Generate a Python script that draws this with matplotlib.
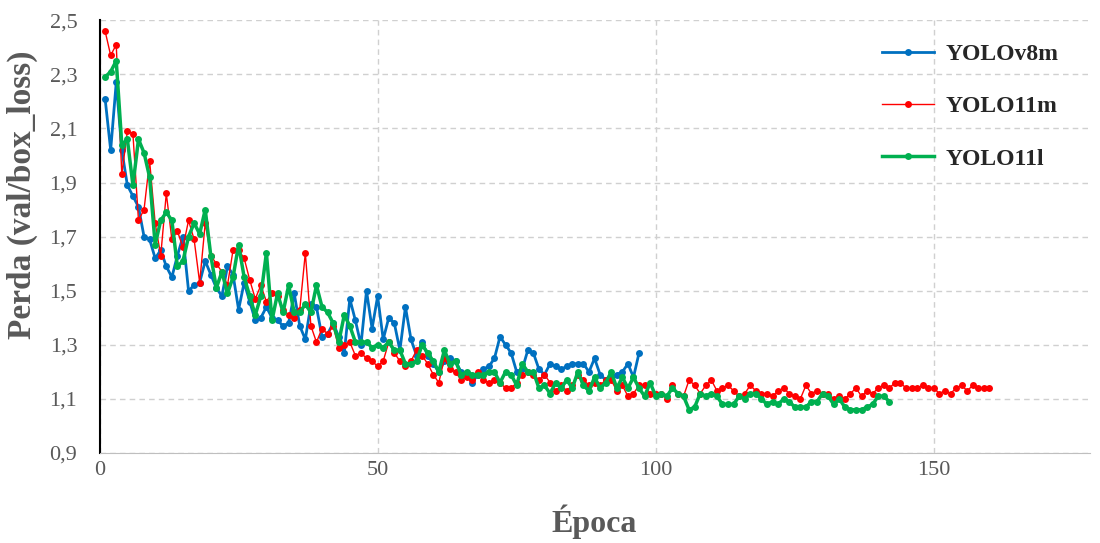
import matplotlib
matplotlib.use("Agg")
import matplotlib.pyplot as plt
from matplotlib.ticker import FuncFormatter

plt.rcParams['font.family'] = ['Liberation Serif', 'DejaVu Serif']

# val/box_loss por época
yolov8m = [2.21, 2.02, 2.27, 2.02, 1.89, 1.85, 1.81, 1.70, 1.69, 1.62,
           1.65, 1.59, 1.55, 1.63, 1.70, 1.50, 1.52, 1.53, 1.61, 1.56,
           1.51, 1.48, 1.59, 1.56, 1.43, 1.53, 1.46, 1.39, 1.40, 1.44,
           1.40, 1.39, 1.37, 1.38, 1.49, 1.37, 1.32, 1.45, 1.44, 1.33,
           1.34, 1.38, 1.33, 1.27, 1.47, 1.39, 1.30, 1.50, 1.36, 1.48,
           1.32, 1.40, 1.38, 1.28, 1.44, 1.32, 1.26, 1.31, 1.26, 1.23,
           1.20, 1.24, 1.25, 1.24, 1.20, 1.19, 1.16, 1.19, 1.21, 1.22,
           1.25, 1.33, 1.30, 1.27, 1.20, 1.21, 1.28, 1.27, 1.21, 1.19,
           1.23, 1.22, 1.21, 1.22, 1.23, 1.23, 1.23, 1.20, 1.25, 1.19,
           1.17, 1.18, 1.19, 1.20, 1.23, 1.18, 1.27]

yolo11m = [2.46, 2.37, 2.41, 1.93, 2.09, 2.08, 1.76, 1.80, 1.98, 1.75,
           1.63, 1.86, 1.69, 1.72, 1.66, 1.76, 1.69, 1.53, 1.75, 1.63,
           1.60, 1.57, 1.52, 1.65, 1.65, 1.62, 1.54, 1.47, 1.52, 1.46,
           1.49, 1.48, 1.43, 1.41, 1.40, 1.43, 1.64, 1.37, 1.31, 1.36,
           1.34, 1.37, 1.29, 1.30, 1.31, 1.26, 1.27, 1.25, 1.24, 1.22,
           1.24, 1.31, 1.27, 1.24, 1.22, 1.24, 1.28, 1.26, 1.23, 1.19,
           1.16, 1.25, 1.21, 1.20, 1.17, 1.18, 1.17, 1.20, 1.17, 1.16,
           1.17, 1.16, 1.14, 1.14, 1.16, 1.19, 1.20, 1.19, 1.17, 1.19,
           1.16, 1.13, 1.15, 1.13, 1.15, 1.19, 1.17, 1.15, 1.16, 1.15,
           1.17, 1.17, 1.13, 1.15, 1.11, 1.12, 1.15, 1.15, 1.12, 1.12,
           1.12, 1.10, 1.15, 1.12, 1.11, 1.17, 1.15, 1.12, 1.15, 1.17,
           1.13, 1.14, 1.15, 1.13, 1.11, 1.12, 1.15, 1.13, 1.12, 1.12,
           1.11, 1.13, 1.14, 1.12, 1.11, 1.10, 1.15, 1.12, 1.13, 1.12,
           1.12, 1.10, 1.11, 1.10, 1.12, 1.14, 1.11, 1.13, 1.12, 1.14,
           1.15, 1.14, 1.16, 1.16, 1.14, 1.14, 1.14, 1.15, 1.14, 1.14,
           1.12, 1.13, 1.12, 1.14, 1.15, 1.13, 1.15, 1.14, 1.14, 1.14]

yolo11l = [2.29, 2.31, 2.35, 2.04, 2.06, 1.89, 2.06, 2.01, 1.92, 1.67,
           1.76, 1.79, 1.76, 1.59, 1.61, 1.70, 1.75, 1.71, 1.80, 1.63,
           1.51, 1.57, 1.49, 1.55, 1.67, 1.55, 1.48, 1.41, 1.48, 1.64,
           1.39, 1.49, 1.42, 1.52, 1.42, 1.42, 1.45, 1.42, 1.52, 1.44,
           1.42, 1.38, 1.31, 1.41, 1.37, 1.31, 1.31, 1.31, 1.29, 1.30,
           1.29, 1.31, 1.28, 1.28, 1.23, 1.23, 1.24, 1.30, 1.27, 1.24,
           1.20, 1.28, 1.23, 1.24, 1.19, 1.20, 1.19, 1.19, 1.19, 1.20,
           1.20, 1.16, 1.20, 1.19, 1.15, 1.23, 1.20, 1.20, 1.14, 1.15,
           1.12, 1.16, 1.14, 1.17, 1.14, 1.20, 1.15, 1.13, 1.18, 1.14,
           1.16, 1.20, 1.14, 1.18, 1.14, 1.18, 1.14, 1.11, 1.16, 1.11,
           1.12, 1.11, 1.14, 1.12, 1.11, 1.06, 1.07, 1.12, 1.11, 1.12,
           1.11, 1.08, 1.08, 1.08, 1.11, 1.10, 1.12, 1.12, 1.10, 1.08,
           1.09, 1.08, 1.10, 1.09, 1.07, 1.07, 1.07, 1.09, 1.09, 1.12,
           1.11, 1.08, 1.10, 1.07, 1.06, 1.06, 1.06, 1.07, 1.08, 1.11,
           1.11, 1.09]

series = [
    ("YOLOv8m", yolov8m, "#0070C0", 2.0),
    ("YOLO11m", yolo11m, "#FF0000", 1.0),
    ("YOLO11l", yolo11l, "#00B050", 2.5),
]

fig = plt.figure(figsize=(11, 5.43), dpi=100)
ax = fig.add_axes([0.0905, 0.1657, 0.9, 0.797])

for name, vals, color, lw in series:
    epochs = list(range(1, len(vals) + 1))
    ax.plot(epochs, vals, color=color, lw=lw, marker='o', ms=5,
            markeredgewidth=0, label=name)

ax.set_xlim(0, 178)
ax.set_ylim(0.9, 2.5)
ax.set_xticks([0, 50, 100, 150])
ax.set_yticks([0.9, 1.1, 1.3, 1.5, 1.7, 1.9, 2.1, 2.3, 2.5])
ax.yaxis.set_major_formatter(FuncFormatter(lambda v, p: f"{v:.1f}".replace('.', ',')))
ax.grid(True, color='#D0D0D0', linestyle=(0, (4, 3)), lw=1)
ax.set_axisbelow(True)

for s in ['top', 'right']:
    ax.spines[s].set_visible(False)
ax.spines['left'].set_color('black')
ax.spines['left'].set_linewidth(1.5)
ax.spines['bottom'].set_color('#BFBFBF')
ax.tick_params(length=0, colors='#595959')
ax.tick_params(axis='y', labelsize=16, pad=16)
ax.tick_params(axis='x', labelsize=16, pad=6)

ax.set_xlabel("Época", fontsize=23, fontweight='bold', color='#595959')
ax.set_ylabel("Perda (val/box_loss)", fontsize=24, fontweight='bold', color='#595959')
ax.xaxis.set_label_coords(0.5, -0.159)
ax.yaxis.set_label_coords(-0.078, 0.596)
ax.xaxis.label.set_va('center')
ax.yaxis.label.set_va('center')

leg = ax.legend(loc='upper right', bbox_to_anchor=(0.99, 0.995), frameon=False,
                prop={'size': 17, 'weight': 'bold'}, labelspacing=1.3,
                handlelength=2.2, handletextpad=0.5)
for t in leg.get_texts():
    t.set_color('#262626')

fig.savefig("out.png", dpi=100)
